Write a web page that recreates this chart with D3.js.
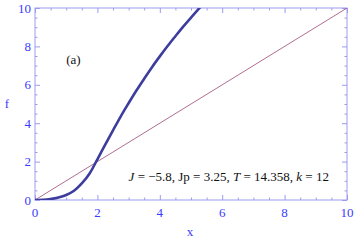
<!DOCTYPE html>
<meta charset="utf-8">
<style>
body { margin: 0; background: #fff; }
</style>
<body>
<script src="https://d3js.org/d3.v7.min.js"></script>
<script>

var w = 354, h = 240;
var margin = {top: 8, right: 7, bottom: 40, left: 35};
var width = w - margin.left - margin.right,
    height = h - margin.top - margin.bottom;

// curve f(x)
var xs = [0, 0.25, 0.5, 0.75, 1.0, 1.25, 1.5, 1.75, 2.0, 2.25, 2.5, 2.75, 3.0, 3.25, 3.5, 3.75, 4.0, 4.25, 4.5, 4.75, 5.0, 5.3];
var fs = [0, 0.005, 0.05, 0.13, 0.26, 0.48, 0.86, 1.38, 2.12, 2.88, 3.63, 4.36, 5.04, 5.7, 6.32, 6.92, 7.48, 8.02, 8.53, 9.03, 9.5, 10.05];
// straight reference line y = x
var lineX = [0, 10];
var majorTicks = [0, 2, 4, 6, 8, 10];

var serif = "'Liberation Serif', 'Times New Roman', serif";

var svg = d3.select("body").append("svg")
    .attr("width", w)
    .attr("height", h)
    .style("font-family", serif);

var g = svg.append("g")
    .attr("transform", "translate(" + margin.left + "," + margin.top + ")");

var x = d3.scaleLinear().domain([0, 10]).range([0, width]);
var y = d3.scaleLinear().domain([0, 10]).range([height, 0]);

var frameColor = "#9b9bf0";
var labelColor = "#3b3bff";

g.append("clipPath").attr("id", "clip")
  .append("rect").attr("width", width).attr("height", height);

var minor = d3.range(0, 10.01, 0.5);

// ticks on all four sides, pointing inward; majors twice as long
var sides = [
    {ax: d3.axisBottom, s: x, t: "translate(0," + height + ")", k: "y2"},
    {ax: d3.axisTop, s: x, t: "translate(0,0)", k: "y2"},
    {ax: d3.axisLeft, s: y, t: "translate(0,0)", k: "x2"},
    {ax: d3.axisRight, s: y, t: "translate(" + width + ",0)", k: "x2"}
];
sides.forEach(function(sd) {
    var a = g.append("g").attr("transform", sd.t)
        .call(sd.ax(sd.s).tickValues(minor).tickSize(-2.5).tickFormat(""));
    a.selectAll(".tick line").filter(function(d) { return d % 2 === 0; })
        .attr(sd.k, function() { return +d3.select(this).attr(sd.k) * 2; });
    a.selectAll("line").attr("stroke", frameColor);
    a.select(".domain").remove();
});

g.append("rect")
    .attr("width", width).attr("height", height)
    .attr("fill", "none").attr("stroke", frameColor).attr("stroke-width", 1);

// tick labels
g.append("g").selectAll("text").data(majorTicks).enter().append("text")
    .attr("x", function(d) { return x(d); })
    .attr("y", height + 17)
    .attr("text-anchor", "middle")
    .attr("font-size", "13px")
    .attr("fill", labelColor)
    .text(function(d) { return d; });

g.append("g").selectAll("text").data(majorTicks).enter().append("text")
    .attr("x", -4)
    .attr("y", function(d) { return y(d) + 4.5; })
    .attr("text-anchor", "end")
    .attr("font-size", "13px")
    .attr("fill", labelColor)
    .text(function(d) { return d; });

// axis titles
svg.append("text").attr("x", margin.left + width / 2 - 1).attr("y", 236)
    .attr("text-anchor", "middle").attr("font-size", "13px").attr("fill", labelColor).text("x");
svg.append("text").attr("x", 7).attr("y", 108)
    .attr("text-anchor", "middle").attr("font-size", "13px").attr("fill", labelColor).text("f");

var plot = g.append("g").attr("clip-path", "url(#clip)");

plot.append("path")
    .datum(lineX)
    .attr("fill", "none")
    .attr("stroke", "#a65c84")
    .attr("stroke-width", 0.9)
    .attr("d", d3.line().x(function(d) { return x(d); }).y(function(d) { return y(d); }));

plot.append("path")
    .datum(d3.zip(xs, fs))
    .attr("fill", "none")
    .attr("stroke", "#3d3d9e")
    .attr("stroke-width", 2.6)
    .attr("d", d3.line().curve(d3.curveCatmullRom.alpha(0.5))
        .x(function(d) { return x(d[0]); })
        .y(function(d) { return y(d[1]); }));

// annotations
g.append("text").attr("x", x(1.0)).attr("y", y(7.3) + 4.5)
    .attr("font-size", "13px").attr("fill", "#111").text("(a)");

var ann = g.append("text").attr("x", x(3.0)).attr("y", y(1.2) + 4.5)
    .attr("font-size", "13px").attr("fill", "#111");
ann.append("tspan").attr("font-style", "italic").text("J");
ann.append("tspan").text(" = \u22125.8, Jp = 3.25, ");
ann.append("tspan").attr("font-style", "italic").text("T");
ann.append("tspan").text(" = 14.358,  ");
ann.append("tspan").attr("font-style", "italic").text("k");
ann.append("tspan").text(" = 12");

</script>
</body>
